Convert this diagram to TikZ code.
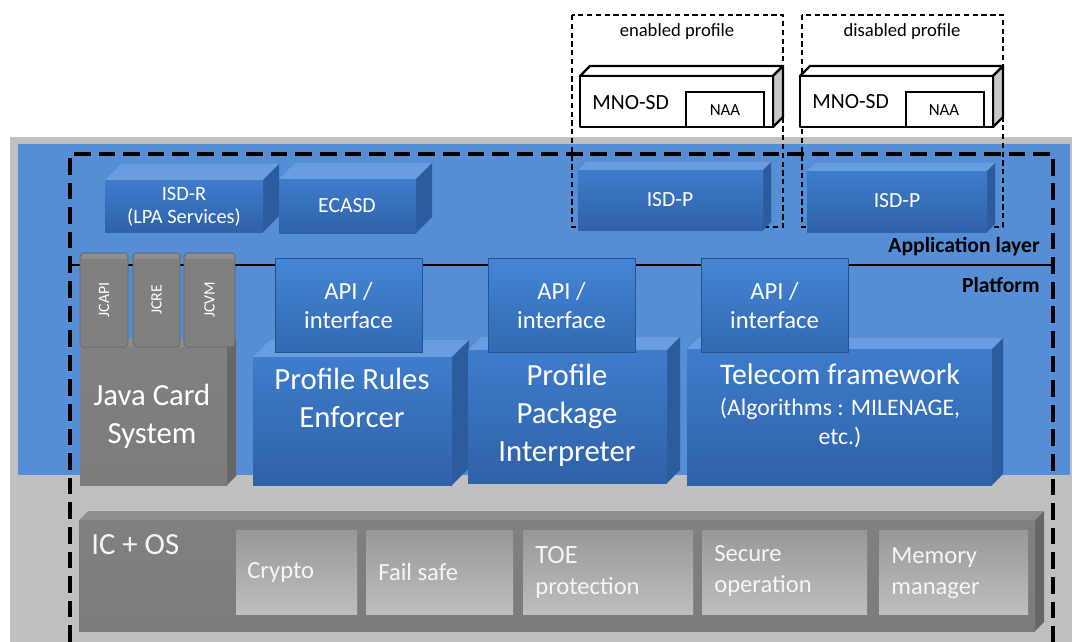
\documentclass[tikz,border=0pt]{standalone}
\usepackage{fontspec}
\setmainfont{Carlito}
\usepackage{tikz}
\usepackage{xcolor}

% box with top and right faces: x1,y1,x2,y2 of the front, depth, colour prefix
\newcommand{\cuboid}[6]{%
    \fill[#6top] (#1,#2) -- (#1+#5,#2-#5) -- (#3+#5,#2-#5) -- (#3,#2) -- cycle;
    \fill[#6side] (#3,#2) -- (#3+#5,#2-#5) -- (#3+#5,#4-#5) -- (#3,#4) -- cycle;
    \shade[top color=#6front, bottom color=#6low] (#1,#2) rectangle (#3,#4);
}

\begin{document}
\begin{tikzpicture}[x=0.02cm, y=-0.02cm,
    wtxt/.style={text=white, align=center, inner sep=0pt},
    gtxt/.style={text=subtext, align=left, inner sep=0pt, anchor=west,
        font=\fontsize{14}{17.6}\selectfont},
    bigtxt/.style={font=\fontsize{17.5}{21.6}\selectfont},
    apitxt/.style={font=\fontsize{14}{16.5}\selectfont},
    boxtxt/.style={font=\fontsize{12.3}{13}\selectfont},
    layertxt/.style={font=\fontsize{12.3}{14}\selectfont\bfseries, inner sep=0pt, anchor=east},
    profile/.style={draw, line width=0.6pt, dash pattern=on 3pt off 2pt},
    apibox/.style={top color=apitop, bottom color=apilow, draw=apiedge, line width=0.4pt}]
    % Define colors
    \definecolor{bggray}{RGB}{192, 192, 192}
    \definecolor{layerblue}{RGB}{85, 142, 213}
    \definecolor{bluetop}{RGB}{104, 158, 224}
    \definecolor{bluefront}{RGB}{62, 124, 204}
    \definecolor{bluelow}{RGB}{47, 98, 168}
    \definecolor{blueside}{RGB}{45, 92, 158}
    \definecolor{apitop}{RGB}{68, 134, 214}
    \definecolor{apilow}{RGB}{50, 105, 178}
    \definecolor{apiedge}{RGB}{40, 82, 140}
    \definecolor{graytop}{RGB}{142, 142, 142}
    \definecolor{grayfront}{RGB}{128, 128, 128}
    \definecolor{graylow}{RGB}{124, 124, 124}
    \definecolor{grayside}{RGB}{102, 102, 102}
    \definecolor{subhigh}{RGB}{152, 152, 152}
    \definecolor{sublow}{RGB}{190, 190, 190}
    \definecolor{subtext}{RGB}{246, 246, 246}
    \definecolor{mnoside}{RGB}{200, 200, 200}

    \useasboundingbox (0,0) rectangle (1072,642);

    % Card background and application/platform area
    \fill[bggray] (10,137) rectangle (1072,642);
    \fill[layerblue] (18,144) rectangle (1070,475);

    % Profiles
    \draw[profile] (572,15) rectangle (783,227);
    \draw[profile] (802,15) rectangle (1003,227);
    \node[inner sep=0pt, font=\fontsize{10.6}{12}\selectfont] (enabled) at (677,32) {enabled profile};
    \node[inner sep=0pt, font=\fontsize{10.6}{12}\selectfont] (disabled) at (902,32) {disabled profile};
    \foreach \dx in {0,220} {
        \filldraw[fill=white, line width=1.4pt, line join=round] (580+\dx,76) -- (590+\dx,66) -- (783+\dx,66) -- (773+\dx,76) -- cycle;
        \filldraw[fill=mnoside, line width=1.4pt, line join=round] (773+\dx,76) -- (783+\dx,66) -- (783+\dx,117) -- (773+\dx,127) -- cycle;
        \filldraw[fill=white, line width=1.4pt, line join=round] (580+\dx,76) rectangle (773+\dx,127);
        \draw[line width=1.2pt] (686+\dx,92) rectangle (764+\dx,127);
    }
    \node[boxtxt, inner sep=0pt, anchor=west] (mnoa) at (592,103) {MNO-SD};
    \node[inner sep=0pt, font=\fontsize{9.6}{10}\selectfont] (naaa) at (725,110) {NAA};
    \node[boxtxt, inner sep=0pt, anchor=west] (mnob) at (812,102) {MNO-SD};
    \node[inner sep=0pt, font=\fontsize{9.6}{10}\selectfont] (naab) at (944,110) {NAA};

    % Security domains
    \cuboid{105}{180}{263}{232}{16}{blue}
    \cuboid{279}{179}{416}{233}{16}{blue}
    \cuboid{578}{170}{763}{230}{8}{blue}
    \cuboid{807}{171}{987}{232}{8}{blue}
    \node[wtxt, font=\fontsize{11.6}{13}\selectfont] (isdr) at (184,207) {ISD-R\\(LPA Services)};
    \node[wtxt, boxtxt] (ecasd) at (347,206) {ECASD};
    \node[wtxt, boxtxt] (isdpa) at (670,200) {ISD-P};
    \node[wtxt, boxtxt] (isdpb) at (897,201) {ISD-P};

    % Layer borders
    \draw[line width=1.9pt, dash pattern=on 9.5pt off 4.5pt] (70,642) -- (70,154) -- (1053,154) -- (1053,642);
    \draw[line width=1.6pt] (70,265) -- (1053,265);
    \node[layertxt] (applayer) at (1040,247) {Application layer};
    \node[layertxt] (platform) at (1040,285) {Platform};

    % Java Card System
    \cuboid{80}{347}{227}{485}{9}{gray}
    \foreach \xa/\xb/\name in {80/128/JCAPI, 133/180/JCRE, 184/235/JCVM} {
        \filldraw[fill=grayfront, draw=grayside, line width=0.4pt, rounded corners=2pt] (\xa,253) rectangle (\xb,347);
        \fill[graytop] (\xa+1.5,254) rectangle (\xb-1.5,259);
        \node[wtxt, rotate=90, font=\fontsize{9}{10}\selectfont] (\name) at ({(\xa+\xb)/2},300) {\name};
    }
    \node[wtxt, bigtxt] (jcs) at (152,416) {Java Card\\System};

    % Platform services
    \cuboid{253}{357}{452}{485}{17}{blue}
    \cuboid{468}{350}{667}{483}{13}{blue}
    \cuboid{687}{349}{992}{485}{11}{blue}
    \foreach \xa/\xb/\name in {275/422/apia, 488/635/apib, 701/848/apic} {
        \path[apibox] (\xa,258) rectangle (\xb,352);
        \node[wtxt, apitxt] (\name) at ({(\xa+\xb)/2},306) {API /\\interface};
    }
    \node[wtxt, bigtxt] (pre) at (352,398) {Profile Rules\\Enforcer};
    \node[wtxt, bigtxt] (ppi) at (567,415) {Profile\\Package\\Interpreter};
    \node[wtxt, font=\fontsize{17}{21}\selectfont] (telecom) at (840,374) {Telecom framework};
    \node[wtxt, font=\fontsize{13.5}{16.5}\selectfont] (algo) at (840,423) {(Algorithms : MILENAGE,\\etc.)};

    % IC + OS
    \cuboid{79}{520}{1035}{631}{9}{gray}
    \foreach \xa/\xb in {236/357, 366/513, 523/693, 702/867, 879/1028} {
        \shade[top color=subhigh, bottom color=sublow] (\xa,530) rectangle (\xb,614);
    }
    \node[text=subtext, inner sep=0pt, anchor=west, bigtxt] (icos) at (91,545) {IC + OS};
    \node[gtxt] (crypto) at (247,572) {Crypto};
    \node[gtxt] (failsafe) at (378,572) {Fail safe};
    \node[gtxt] (toe) at (535,572) {{\fontsize{15}{17.6}\selectfont TOE}\\protection};
    \node[gtxt] (secure) at (714,571) {Secure\\operation};
    \node[gtxt] (memory) at (891,573) {Memory\\manager};
\end{tikzpicture}
\end{document}
